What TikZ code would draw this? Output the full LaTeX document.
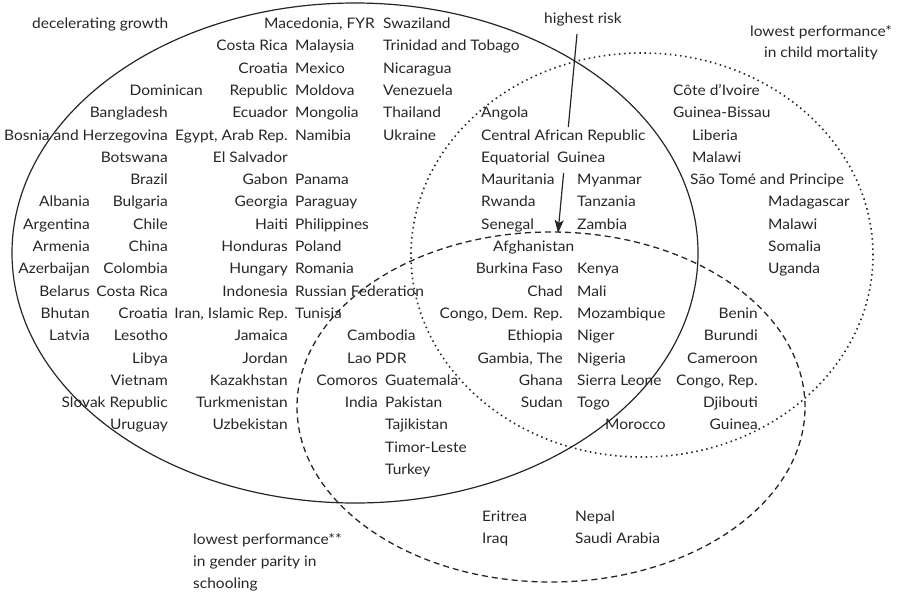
\documentclass[tikz,border=0pt]{standalone}
\usepackage{fontspec}
\setmainfont{Lato}[FakeStretch=1.07]
\usetikzlibrary{arrows.meta}
\begin{document}
\begin{tikzpicture}[x=1pt,y=-1pt,
  lbl/.style={inner sep=0pt, font=\fontsize{14.5}{16}\selectfont, text height=10pt, text depth=3pt, text=black!85},
  R/.style={lbl, anchor=east},
  L/.style={lbl, anchor=west},
  C/.style={lbl, anchor=center},
  solidset/.style={line width=1.2pt, draw=black!85},
  dotset/.style={line width=1.6pt, draw=black!85, dash pattern=on 1.5pt off 3.6pt},
  dashset/.style={line width=1.3pt, draw=black!85, dash pattern=on 6pt off 4pt},
  riskline/.style={line width=1.2pt, draw=black!85}]
\useasboundingbox (0,0) rectangle (901,595);

% sets
\draw[solidset] (355,253) ellipse [x radius=343pt, y radius=250pt];
\draw[dotset] (642,255) ellipse [x radius=231pt, y radius=202pt];
\draw[dashset] (551,407) ellipse [x radius=254pt, y radius=175pt];

% titles
\node[L] (tdec) at (32,25) {decelerating growth};
\node[C] (hr) at (583,20) {highest risk};
\node[C] (tcm1) at (821,33) {lowest performance*};
\node[C] (tcm2) at (821,54) {in child mortality};
\node[L] (tgp1) at (193,541) {lowest performance**};
\node[L] (tgp2) at (193,563) {in gender parity in};
\node[L] (tgp3) at (193,585) {schooling};

% highest risk arrow
\coordinate (riskA) at (577,34);
\coordinate (riskB) at (568.3,127);
\coordinate (riskC) at (563.6,173);
\coordinate (riskD) at (558,233);
\draw[riskline] (riskA) -- (riskB);
\draw[riskline, -{Stealth[length=13pt, width=9pt, inset=3pt]}] (riskC) -- (riskD);

% column 1 (right at 90)
\node[R] (a1) at (90,203.4) {Albania};
\node[R] (a2) at (90,225.7) {Argentina};
\node[R] (a3) at (90,248) {Armenia};
\node[R] (a4) at (90,270.3) {Azerbaijan};
\node[R] (a5) at (90,292.6) {Belarus};
\node[R] (a6) at (90,314.9) {Bhutan};
\node[R] (a7) at (90,337.2) {Latvia};

% column 2 (right at 168)
\node[R] (b0) at (203,91.9) {Dominican};
\node[R] (b1) at (168,114.2) {Bangladesh};
\node[R] (b2) at (168,136.5) {Bosnia and Herzegovina};
\node[R] (b3) at (168,158.8) {Botswana};
\node[R] (b4) at (168,181.1) {Brazil};
\node[R] (b5) at (168,203.4) {Bulgaria};
\node[R] (b6) at (168,225.7) {Chile};
\node[R] (b7) at (168,248) {China};
\node[R] (b8) at (168,270.3) {Colombia};
\node[R] (b9) at (168,292.6) {Costa Rica};
\node[R] (b10) at (168,314.9) {Croatia};
\node[R] (b11) at (168,337.2) {Lesotho};
\node[R] (b12) at (168,359.5) {Libya};
\node[R] (b13) at (168,381.8) {Vietnam};
\node[R] (b14) at (168,404.1) {Slovak Republic};
\node[R] (b15) at (168,426.4) {Uruguay};

% column 3 (right at 288)
\node[R] (c0) at (375,25) {Macedonia, FYR};
\node[R] (c1) at (288,47.3) {Costa Rica};
\node[R] (c2) at (288,69.6) {Croatia};
\node[R] (c3) at (288,91.9) {Republic};
\node[R] (c4) at (288,114.2) {Ecuador};
\node[R] (c5) at (288,136.5) {Egypt, Arab Rep.};
\node[R] (c6) at (288,158.8) {El Salvador};
\node[R] (c7) at (288,181.1) {Gabon};
\node[R] (c8) at (288,203.4) {Georgia};
\node[R] (c9) at (288,225.7) {Haiti};
\node[R] (c10) at (288,248) {Honduras};
\node[R] (c11) at (288,270.3) {Hungary};
\node[R] (c12) at (288,292.6) {Indonesia};
\node[R] (c13) at (288,314.9) {Iran, Islamic Rep.};
\node[R] (c14) at (288,337.2) {Jamaica};
\node[R] (c15) at (288,359.5) {Jordan};
\node[R] (c16) at (288,381.8) {Kazakhstan};
\node[R] (c17) at (288,404.1) {Turkmenistan};
\node[R] (c18) at (288,426.4) {Uzbekistan};

% column 4 (left at 295)
\node[L] (d1) at (295,47.3) {Malaysia};
\node[L] (d2) at (295,69.6) {Mexico};
\node[L] (d3) at (295,91.9) {Moldova};
\node[L] (d4) at (295,114.2) {Mongolia};
\node[L] (d5) at (295,136.5) {Namibia};
\node[L] (d7) at (295,181.1) {Panama};
\node[L] (d8) at (295,203.4) {Paraguay};
\node[L] (d9) at (295,225.7) {Philippines};
\node[L] (d10) at (295,248) {Poland};
\node[L] (d11) at (295,270.3) {Romania};
\node[L] (d12) at (295,292.6) {Russian Federation};
\node[L] (d13) at (295,314.9) {Tunisia};

% column 5 (left at 383)
\node[L] (e0) at (383,25) {Swaziland};
\node[L] (e1) at (383,47.3) {Trinidad and Tobago};
\node[L] (e2) at (383,69.6) {Nicaragua};
\node[L] (e3) at (383,91.9) {Venezuela};
\node[L] (e4) at (383,114.2) {Thailand};
\node[L] (e5) at (383,136.5) {Ukraine};

% decelerating growth & gender parity
\node[L] (f1) at (347,337.2) {Cambodia};
\node[L] (f2) at (347,359.5) {Lao PDR};
\node[R] (f3) at (378,381.8) {Comoros};
\node[R] (f4) at (378,404.1) {India};
\node[L] (g1) at (385,381.8) {Guatemala};
\node[L] (g2) at (385,404.1) {Pakistan};
\node[L] (g3) at (385,426.4) {Tajikistan};
\node[L] (g4) at (385,448.7) {Timor-Leste};
\node[L] (g5) at (385,471) {Turkey};

% decelerating growth & child mortality
\node[L] (h1) at (481,114.2) {Angola};
\node[L] (h2) at (481,136.5) {Central African Republic};
\node[L] (h3) at (481,158.8) {Equatorial};
\node[L] (h3b) at (557,158.8) {Guinea};
\node[L] (h4) at (481,181.1) {Mauritania};
\node[L] (h5) at (481,203.4) {Rwanda};
\node[L] (h6) at (481,225.7) {Senegal};
\node[L] (i4) at (577,181.1) {Myanmar};
\node[L] (i5) at (577,203.4) {Tanzania};
\node[L] (i6) at (577,225.7) {Zambia};

% all three
\node[L] (j0) at (493,248) {Afghanistan};
\node[R] (j1) at (563,270.3) {Burkina Faso};
\node[R] (j2) at (563,292.6) {Chad};
\node[R] (j3) at (563,314.9) {Congo, Dem. Rep.};
\node[R] (j4) at (563,337.2) {Ethiopia};
\node[R] (j5) at (563,359.5) {Gambia, The};
\node[R] (j6) at (563,381.8) {Ghana};
\node[R] (j7) at (563,404.1) {Sudan};
\node[L] (k1) at (577,270.3) {Kenya};
\node[L] (k2) at (577,292.6) {Mali};
\node[L] (k3) at (577,314.9) {Mozambique};
\node[L] (k4) at (577,337.2) {Niger};
\node[L] (k5) at (577,359.5) {Nigeria};
\node[L] (k6) at (577,381.8) {Sierra Leone};
\node[L] (k7) at (577,404.1) {Togo};
\node[L] (k8) at (605,426.4) {Morocco};

% child mortality & gender parity
\node[R] (m1) at (758,314.9) {Benin};
\node[R] (m2) at (758,337.2) {Burundi};
\node[R] (m3) at (758,359.5) {Cameroon};
\node[R] (m4) at (758,381.8) {Congo, Rep.};
\node[R] (m5) at (758,404.1) {Djibouti};
\node[R] (m6) at (758,426.4) {Guinea};

% child mortality only
\node[L] (p1) at (673,91.9) {Côte d'Ivoire};
\node[L] (p2) at (673,114.2) {Guinea-Bissau};
\node[L] (p3) at (692,136.5) {Liberia};
\node[L] (p4) at (692,158.8) {Malawi};
\node[L] (p5) at (690,181.1) {São Tomé and Principe};
\node[L] (q1) at (768,203.4) {Madagascar};
\node[L] (q2) at (768,225.7) {Malawi};
\node[L] (q3) at (768,248) {Somalia};
\node[L] (q4) at (768,270.3) {Uganda};

% gender parity only
\node[L] (s1) at (482,518) {Eritrea};
\node[L] (s2) at (482,540) {Iraq};
\node[L] (s3) at (575,518) {Nepal};
\node[L] (s4) at (575,540) {Saudi Arabia};
\end{tikzpicture}
\end{document}
